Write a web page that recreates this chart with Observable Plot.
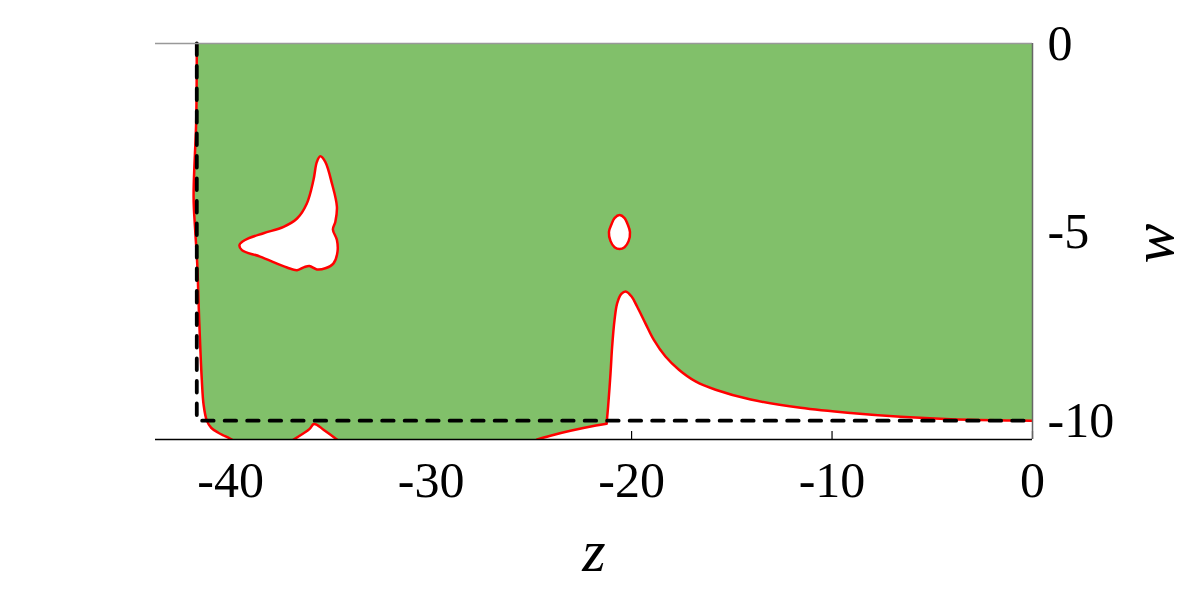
<!DOCTYPE html>
<html><head><meta charset="utf-8">
<script src="https://cdn.jsdelivr.net/npm/d3@7"></script>
<script src="https://cdn.jsdelivr.net/npm/@observablehq/plot@0.6"></script>
<style>html,body{margin:0;background:#fff}#chart svg{display:block}</style>
</head><body><div id="chart"></div>
<script>
// Axis ticks
const xTicks = [-40, -30, -20, -10, 0];
const yTicks = [0, -5, -10];
const xDomain = [-43.75, 0];
const yDomain = [-10.5, 0];

// Left boundary of the green (stable) region, top to bottom
const leftEdgeZ = [-41.69, -41.72, -41.85, -41.77, -41.67, -41.57, -41.44, -41.35, -41.19, -40.97, -40.62, -40.28, -39.94];
const leftEdgeW = [0, -2.04, -4.07, -4.95, -5.82, -7.33, -8.92, -9.58, -10.0, -10.19, -10.32, -10.41, -10.5];

// Small bump at the bottom
const bumpZ = [-36.86, -36.06, -35.86, -35.70, -35.37, -34.70];
const bumpW = [-10.5, -10.22, -10.09, -10.11, -10.24, -10.5];

// Spike: low base segment, then the rise and decay
const spikeBaseZ = [-24.71, -24.05, -23.05, -21.78, -21.25];
const spikeBaseW = [-10.5, -10.40, -10.27, -10.13, -10.08];
const spikeRiseZ = [-21.25, -21.17, -21.05, -20.97, -20.85, -20.72, -20.51, -20.27, -20.00, -19.72, -19.31, -18.89, -18.31, -17.64, -16.81, -15.81, -14.06, -11.57, -9.07, -6.58, -4.08, 0];
const spikeRiseW = [-10.08, -9.62, -8.74, -8.04, -7.33, -6.89, -6.64, -6.58, -6.71, -6.98, -7.42, -7.86, -8.30, -8.65, -8.96, -9.18, -9.44, -9.66, -9.80, -9.90, -9.96, -10.0];

// Butterfly-shaped hole
const butterflyZ = [-35.53, -35.28, -34.95, -34.70, -34.78, -34.90, -34.70, -34.67, -34.87, -35.28, -35.70, -36.07, -36.33, -36.69, -37.19, -38.53, -39.44, -39.56, -39.28, -38.36, -37.36, -36.69, -36.20, -35.87, -35.70];
const butterflyW = [-2.99, -3.14, -3.71, -4.33, -4.73, -4.93, -5.21, -5.52, -5.83, -5.96, -5.99, -5.90, -5.93, -6.01, -5.94, -5.65, -5.48, -5.34, -5.21, -5.03, -4.86, -4.64, -4.24, -3.62, -3.14];

// Small oval hole
const ovalZ = [-20.60, -20.35, -20.20, -20.08, -20.15, -20.35, -20.60, -20.85, -21.05, -21.13, -21.00, -20.85];
const ovalW = [-4.55, -4.63, -4.79, -5.00, -5.24, -5.40, -5.45, -5.40, -5.24, -5.00, -4.79, -4.63];

// Dashed reference line
const dashZ = [-41.69, -41.69, 0];
const dashW = [0, -10, -10];

const GREEN = "#81c06a";
const zip = (zs, ws) => zs.map((z, i) => ({z, w: ws[i]}));
const rev = a => a.slice().reverse();

const leftEdge = zip(leftEdgeZ, leftEdgeW);
const bump = zip(bumpZ, bumpW);
const spikeBase = zip(spikeBaseZ, spikeBaseW);
const spikeRise = zip(spikeRiseZ, spikeRiseW);
const butterfly = zip(butterflyZ, butterflyW);
const oval = zip(ovalZ, ovalW);
const dash = zip(dashZ, dashW);

const green = [
  leftEdge[0], {z: 0, w: 0},
  ...rev(spikeRise), ...rev(spikeBase), ...rev(bump), ...rev(leftEdge)
];

const tickLen = 8 * (yDomain[1] - yDomain[0]) / 396;
const RED = {stroke: "red", strokeWidth: 2.5};

const chart = Plot.plot({
  width: 1196, height: 593,
  marginLeft: 155, marginRight: 164, marginTop: 43, marginBottom: 154,
  x: {domain: xDomain},
  y: {domain: yDomain},
  style: {fontFamily: "'Liberation Serif', serif", fontSize: "50px", color: "black", background: "white"},
  marks: [
    Plot.ruleX(xTicks, {x: d => d, y1: yDomain[0], y2: yDomain[0] + tickLen, stroke: "black", strokeWidth: 1.2}),
    Plot.line(green, {x: "z", y: "w", fill: GREEN, stroke: "none", curve: "linear", clip: true}),
    Plot.line(butterfly, {x: "z", y: "w", curve: "catmull-rom-closed", fill: "white", ...RED}),
    Plot.line(oval, {x: "z", y: "w", curve: "catmull-rom-closed", fill: "white", ...RED}),
    Plot.line(leftEdge, {x: "z", y: "w", curve: "catmull-rom", ...RED, clip: true}),
    Plot.line(bump, {x: "z", y: "w", curve: "catmull-rom", ...RED, clip: true}),
    Plot.line(spikeBase, {x: "z", y: "w", curve: "catmull-rom", ...RED, clip: true}),
    Plot.line(spikeRise, {x: "z", y: "w", curve: "catmull-rom", ...RED, clip: true}),
    Plot.line(dash, {x: "z", y: "w", stroke: "black", strokeWidth: 3.8, strokeDasharray: "11.5,11"}),
    Plot.ruleY([yDomain[1]], {stroke: "#999", strokeWidth: 1.5}),
    Plot.ruleX([xDomain[1]], {y1: yDomain[0], y2: yDomain[1], stroke: "#666", strokeWidth: 1.5}),
    Plot.ruleY([yDomain[0]], {stroke: "black", strokeWidth: 1.3}),
    Plot.axisX(xTicks, {tickSize: 0, tickPadding: 22, tickFormat: d => String(d), label: null, fontSize: 50}),
    Plot.axisY(yTicks, {anchor: "right", tickSize: 0, tickPadding: 15, tickFormat: d => String(d), label: null, fontSize: 50}),
    Plot.text(["z"], {frameAnchor: "bottom", dy: 112, fontStyle: "italic", fontSize: 60, lineAnchor: "middle", text: d => d}),
    Plot.text(["w"], {frameAnchor: "right", dx: 121, dy: -18, rotate: -90, fontStyle: "italic", fontSize: 60, lineAnchor: "middle", text: d => d})
  ]
});
document.getElementById("chart").appendChild(chart);
</script>
</body></html>
